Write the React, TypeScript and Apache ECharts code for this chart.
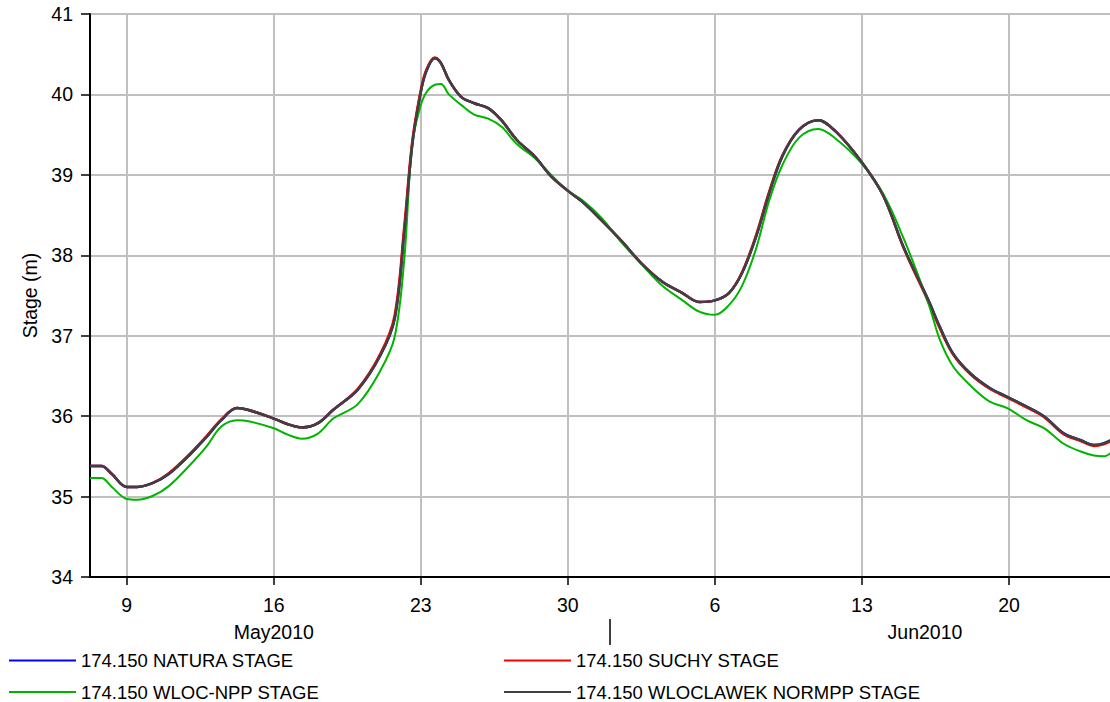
import React, { useEffect, useRef } from "react";
import * as echarts from "echarts";

// Sample times (UTC)
const TIMES = [
  "2010-05-07T06:00Z", "2010-05-07T19:00Z", "2010-05-08T07:00Z", "2010-05-09T00:00Z", "2010-05-09T12:00Z",
  "2010-05-10T06:00Z", "2010-05-11T00:00Z", "2010-05-12T00:00Z", "2010-05-12T19:00Z", "2010-05-13T12:00Z",
  "2010-05-14T06:00Z", "2010-05-14T18:00Z", "2010-05-16T00:00Z", "2010-05-16T16:00Z", "2010-05-17T08:00Z",
  "2010-05-18T02:00Z", "2010-05-18T20:00Z", "2010-05-20T00:00Z", "2010-05-21T02:00Z", "2010-05-21T18:00Z",
  "2010-05-22T05:00Z", "2010-05-22T14:00Z", "2010-05-22T23:00Z", "2010-05-23T06:00Z", "2010-05-23T16:00Z",
  "2010-05-23T23:00Z", "2010-05-24T08:00Z", "2010-05-24T22:00Z", "2010-05-25T13:00Z", "2010-05-26T05:00Z",
  "2010-05-26T20:00Z", "2010-05-27T14:00Z", "2010-05-28T10:00Z", "2010-05-29T05:00Z", "2010-05-29T23:00Z",
  "2010-05-30T16:00Z", "2010-05-31T14:00Z", "2010-06-01T14:00Z", "2010-06-02T12:00Z", "2010-06-03T12:00Z",
  "2010-06-04T11:00Z", "2010-06-05T06:00Z", "2010-06-06T00:00Z", "2010-06-06T16:00Z", "2010-06-07T07:00Z",
  "2010-06-07T23:00Z", "2010-06-08T14:00Z", "2010-06-09T05:00Z", "2010-06-10T00:00Z", "2010-06-10T22:00Z",
  "2010-06-11T18:00Z", "2010-06-12T23:00Z", "2010-06-14T00:00Z", "2010-06-15T00:00Z", "2010-06-16T04:00Z",
  "2010-06-16T17:00Z", "2010-06-17T08:00Z", "2010-06-18T04:00Z", "2010-06-19T02:00Z", "2010-06-19T22:00Z",
  "2010-06-20T20:00Z", "2010-06-21T16:00Z", "2010-06-22T14:00Z", "2010-06-23T10:00Z", "2010-06-24T01:00Z",
  "2010-06-24T12:00Z", "2010-06-25T00:00Z",
];

const NORMPP = [
  35.38, 35.38, 35.28, 35.12, 35.12, 35.17, 35.28, 35.52, 35.74, 35.95,
  36.10, 36.08, 35.97, 35.90, 35.86, 35.91, 36.08, 36.33, 36.76, 37.20,
  38.27, 39.35, 39.97, 40.28, 40.45, 40.39, 40.18, 39.97, 39.89, 39.83,
  39.68, 39.43, 39.23, 38.98, 38.81, 38.67, 38.44, 38.17, 37.90, 37.67,
  37.53, 37.42, 37.44, 37.53, 37.78, 38.23, 38.77, 39.23, 39.56, 39.68,
  39.54, 39.17, 38.75, 38.09, 37.44, 37.11, 36.78, 36.53, 36.35, 36.24,
  36.12, 36.00, 35.79, 35.70, 35.64, 35.66, 35.72,
];

const SUCHY = [
  35.38, 35.38, 35.28, 35.12, 35.12, 35.17, 35.29, 35.53, 35.75, 35.96,
  36.10, 36.08, 35.97, 35.90, 35.86, 35.91, 36.08, 36.34, 36.78, 37.25,
  38.35, 39.40, 40.00, 40.30, 40.46, 40.39, 40.18, 39.97, 39.89, 39.83,
  39.68, 39.43, 39.23, 38.98, 38.81, 38.67, 38.44, 38.17, 37.90, 37.67,
  37.53, 37.42, 37.44, 37.53, 37.79, 38.25, 38.79, 39.24, 39.56, 39.68,
  39.54, 39.17, 38.75, 38.08, 37.42, 37.09, 36.77, 36.52, 36.34, 36.23,
  36.11, 35.99, 35.78, 35.69, 35.63, 35.65, 35.71,
];

const NATURA = [
  35.38, 35.38, 35.28, 35.12, 35.12, 35.17, 35.28, 35.52, 35.74, 35.95,
  36.10, 36.08, 35.97, 35.90, 35.86, 35.91, 36.08, 36.33, 36.76, 37.21,
  38.29, 39.36, 39.98, 40.28, 40.45, 40.39, 40.18, 39.97, 39.89, 39.83,
  39.68, 39.43, 39.23, 38.98, 38.81, 38.67, 38.44, 38.17, 37.90, 37.67,
  37.53, 37.42, 37.44, 37.53, 37.78, 38.23, 38.77, 39.23, 39.56, 39.68,
  39.54, 39.17, 38.75, 38.09, 37.44, 37.11, 36.78, 36.53, 36.35, 36.24,
  36.12, 36.00, 35.79, 35.70, 35.64, 35.66, 35.72,
];

const WLOC_NPP = [
  35.23, 35.23, 35.12, 34.97, 34.96, 35.01, 35.13, 35.39, 35.62, 35.87,
  35.95, 35.94, 35.85, 35.77, 35.72, 35.78, 35.97, 36.15, 36.57, 36.98,
  37.94, 39.38, 39.83, 40.02, 40.12, 40.13, 40.00, 39.87, 39.75, 39.70,
  39.60, 39.38, 39.21, 39.00, 38.81, 38.69, 38.47, 38.15, 37.89, 37.62,
  37.44, 37.30, 37.26, 37.38, 37.62, 38.08, 38.68, 39.12, 39.46, 39.57,
  39.45, 39.15, 38.77, 38.20, 37.40, 36.95, 36.62, 36.38, 36.18, 36.10,
  35.95, 35.85, 35.66, 35.56, 35.51, 35.50, 35.58,
];

const X_START = "2010-05-07T06:00Z";
const X_END = "2010-06-25T00:00Z";
const WEEK_TICKS = [
  "2010-05-09T00:00Z", "2010-05-16T00:00Z", "2010-05-23T00:00Z", "2010-05-30T00:00Z",
  "2010-06-06T00:00Z", "2010-06-13T00:00Z", "2010-06-20T00:00Z",
];
const MONTH_BREAKS = ["2010-06-01T00:00Z"];
const MONTH_LABEL_AT = ["2010-05-16T00:00Z", "2010-06-16T00:00Z"];
const MONTH_LABELS = ["May2010", "Jun2010"];

const Y_MIN = 34;
const Y_MAX = 41;

const SERIES_NAMES = [
  "174.150 NATURA STAGE",
  "174.150 SUCHY STAGE",
  "174.150 WLOC-NPP STAGE",
  "174.150 WLOCLAWEK NORMPP STAGE",
];

const ts = (s: string) => Date.parse(s);
const FONT = "'Liberation Sans', Arial, sans-serif";
const AXIS_FONT = 19.5;

export default function App() {
  const ref = useRef<HTMLDivElement>(null);

  useEffect(() => {
    if (!ref.current) return;
    const chart = echarts.init(ref.current, undefined, { renderer: "svg" });
    const xs = TIMES.map(ts);
    const mk = (vals: number[]) => xs.map((x, i) => [x, vals[i]]);
    const monthAt = MONTH_LABEL_AT.map(ts);

    const lineSeries = (name: string, vals: number[], color: string, width: number) => ({
      type: "line",
      name,
      data: mk(vals),
      showSymbol: false,
      symbol: "none",
      smooth: 0.35,
      lineStyle: { color, width },
      itemStyle: { color },
      emphasis: { disabled: true },
    });

    const legendCommon = {
      orient: "vertical",
      top: 651,
      itemWidth: 67,
      itemHeight: 2,
      itemGap: 12.5,
      icon: "rect",
      padding: 0,
      textStyle: { fontSize: 18.5, color: "#000", fontFamily: FONT },
    };

    chart.setOption({
      animation: false,
      backgroundColor: "#fff",
      textStyle: { fontFamily: FONT },
      grid: {
        left: 90,
        top: 14,
        right: -4,
        bottom: 125,
        show: true,
        borderColor: "#000",
        borderWidth: 2,
        backgroundColor: "transparent",
        containLabel: false,
        outerBoundsMode: "none",
      },
      legend: [
        { ...legendCommon, left: 9, data: [SERIES_NAMES[0], SERIES_NAMES[2]] },
        { ...legendCommon, left: 504, data: [SERIES_NAMES[1], SERIES_NAMES[3]] },
      ],
      xAxis: [
        {
          type: "value",
          min: ts(X_START),
          max: ts(X_END),
          position: "bottom",
          axisLine: { show: true, onZero: false, lineStyle: { color: "#000", width: 2 } },
          axisTick: {
            show: true,
            customValues: WEEK_TICKS.map(ts),
            length: 8,
            lineStyle: { color: "#000", width: 1.5 },
          },
          axisLabel: {
            customValues: WEEK_TICKS.map(ts),
            formatter: (v: number) => String(new Date(v).getUTCDate()),
            fontSize: AXIS_FONT,
            color: "#000",
            fontFamily: FONT,
            margin: 18,
          },
          splitLine: { show: true, lineStyle: { color: "#c0c0c0", width: 2 } },
        },
        {
          type: "value",
          min: ts(X_START),
          max: ts(X_END),
          position: "bottom",
          offset: 42,
          axisLine: { show: false },
          axisTick: {
            show: true,
            customValues: MONTH_BREAKS.map(ts),
            length: 26,
            lineStyle: { color: "#000", width: 1.5 },
          },
          axisLabel: {
            customValues: monthAt,
            formatter: (v: number) => {
              const i = monthAt.indexOf(v);
              return i >= 0 ? MONTH_LABELS[i] : "";
            },
            fontSize: AXIS_FONT,
            color: "#000",
            fontFamily: FONT,
            margin: 3,
          },
          splitLine: { show: false },
        },
      ],
      yAxis: {
        type: "value",
        min: Y_MIN,
        max: Y_MAX,
        interval: 1,
        name: "Stage (m)",
        nameLocation: "middle",
        nameGap: 47,
        nameTextStyle: { fontSize: AXIS_FONT, color: "#000", fontFamily: FONT },
        axisLine: { show: true, lineStyle: { color: "#000", width: 2 } },
        axisTick: { show: true, length: 9, lineStyle: { color: "#000", width: 1.5 } },
        axisLabel: { fontSize: AXIS_FONT, color: "#000", fontFamily: FONT, margin: 17 },
        splitLine: { show: true, lineStyle: { color: "#c0c0c0", width: 2 } },
      },
      series: [
        lineSeries(SERIES_NAMES[0], NATURA, "#0000ff", 2.5),
        lineSeries(SERIES_NAMES[1], SUCHY, "#ff0000", 2.5),
        lineSeries(SERIES_NAMES[2], WLOC_NPP, "#00b400", 2),
        lineSeries(SERIES_NAMES[3], NORMPP, "#404040", 2.5),
      ],
    });
    return () => chart.dispose();
  }, []);

  return (
    <div
      ref={ref}
      style={{ position: "absolute", left: 0, top: 0, width: 1110, height: 702 }}
    />
  );
}
